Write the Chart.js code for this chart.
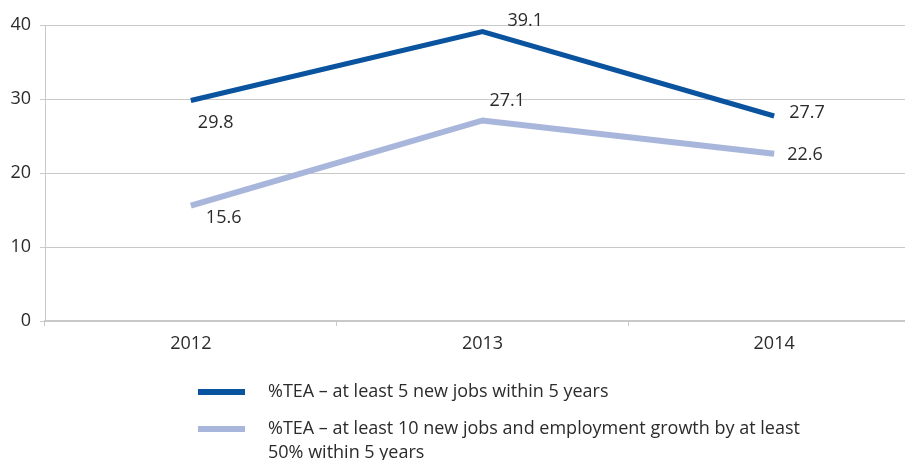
<!DOCTYPE html>
<html>
<head>
<meta charset="utf-8">
<script src="https://cdn.jsdelivr.net/npm/chart.js@4.4.0/dist/chart.umd.min.js"></script>
<style>
    html, body { margin: 0; padding: 0; background: #fff; overflow: hidden; }
    #wrap { width: 920px; height: 460px; position: relative; }
</style>
</head>
<body>
<div id="wrap"><canvas id="tea"></canvas></div>
<script>
/* ---------- data ---------- */
const years       = ['2012', '2013', '2014'];
const jobs5       = [29.8, 39.1, 27.7];
const jobs10      = [15.6, 27.1, 22.6];
const yTicks      = [0, 10, 20, 30, 40];
const seriesNames = [
    '%TEA \u2013 at least 5 new jobs within 5 years',
    ['%TEA \u2013 at least 10 new jobs and employment growth by at least', '50% within 5 years']
];

/* ---------- styles ---------- */
const FONT   = '"Open Sans", "Noto Sans", sans-serif';
const TEXT   = '#2b2b2b';
const GRID   = '#c9c9c9';
const DARK   = '#0a539e';
const LIGHT  = '#a9b6dc';

// label offsets (px) from each point, per dataset
const labelOffsets = [
    [[7, 22], [25, -11], [15, -3]],
    [[15, 12], [7, -20], [13, 1]]
];

const valueLabels = {
    id: 'valueLabels',
    afterDatasetsDraw(chart) {
        const ctx = chart.ctx;
        ctx.save();
        ctx.font = '18px ' + FONT;
        ctx.fillStyle = TEXT;
        ctx.textAlign = 'left';
        ctx.textBaseline = 'middle';
        chart.data.datasets.forEach((ds, i) => {
            chart.getDatasetMeta(i).data.forEach((pt, j) => {
                const off = labelOffsets[i][j];
                ctx.fillText(ds.data[j].toFixed(1), pt.x + off[0], pt.y + off[1]);
            });
        });
        ctx.restore();
    }
};

const bottomLegend = {
    id: 'bottomLegend',
    afterDraw(chart) {
        const ctx = chart.ctx;
        const rows = [392, 429];
        ctx.save();
        ctx.font = '18px ' + FONT;
        ctx.fillStyle = TEXT;
        ctx.textBaseline = 'middle';
        ctx.textAlign = 'left';
        chart.data.datasets.forEach((ds, i) => {
            const y = rows[i];
            ctx.strokeStyle = ds.borderColor;
            ctx.lineWidth = 6;
            ctx.beginPath();
            ctx.moveTo(198, y);
            ctx.lineTo(245, y);
            ctx.stroke();
            const lines = Array.isArray(ds.label) ? ds.label : [ds.label];
            lines.forEach((t, k) => ctx.fillText(t, 268, y + k * 24));
        });
        ctx.restore();
    }
};

const chart = new Chart(document.getElementById('tea'), {
    type: 'line',
    data: {
        labels: years,
        datasets: [
            { label: seriesNames[0], data: jobs5,  borderColor: DARK,  borderWidth: 5, pointRadius: 0, tension: 0, borderCapStyle: 'butt' },
            { label: seriesNames[1], data: jobs10, borderColor: LIGHT, borderWidth: 6, pointRadius: 0, tension: 0, borderCapStyle: 'butt' }
        ]
    },
    options: {
        responsive: true,
        maintainAspectRatio: false,
        animation: false,
        layout: { padding: { top: 25, right: 0, bottom: 109, left: 0 } },
        plugins: {
            legend: { display: false },
            tooltip: { enabled: false }
        },
        scales: {
            x: {
                offset: true,
                grid: { offset: true, drawOnChartArea: false, color: GRID, tickLength: 5 },
                border: { color: GRID, width: 2 },
                ticks: { color: TEXT, font: { family: FONT, size: 18 }, padding: 7, maxRotation: 0 },
                afterFit: s => { s.height = 30; }
            },
            y: {
                min: 0,
                max: 40,
                afterBuildTicks: s => { s.ticks = yTicks.map(v => ({ value: v })); },
                grid: { color: GRID, tickLength: 5 },
                border: { color: GRID },
                ticks: { color: TEXT, font: { family: FONT, size: 18 }, padding: 9 },
                afterFit: s => { s.width = 45; }
            }
        }
    },
    plugins: [valueLabels, bottomLegend]
});
</script>
</body>
</html>
